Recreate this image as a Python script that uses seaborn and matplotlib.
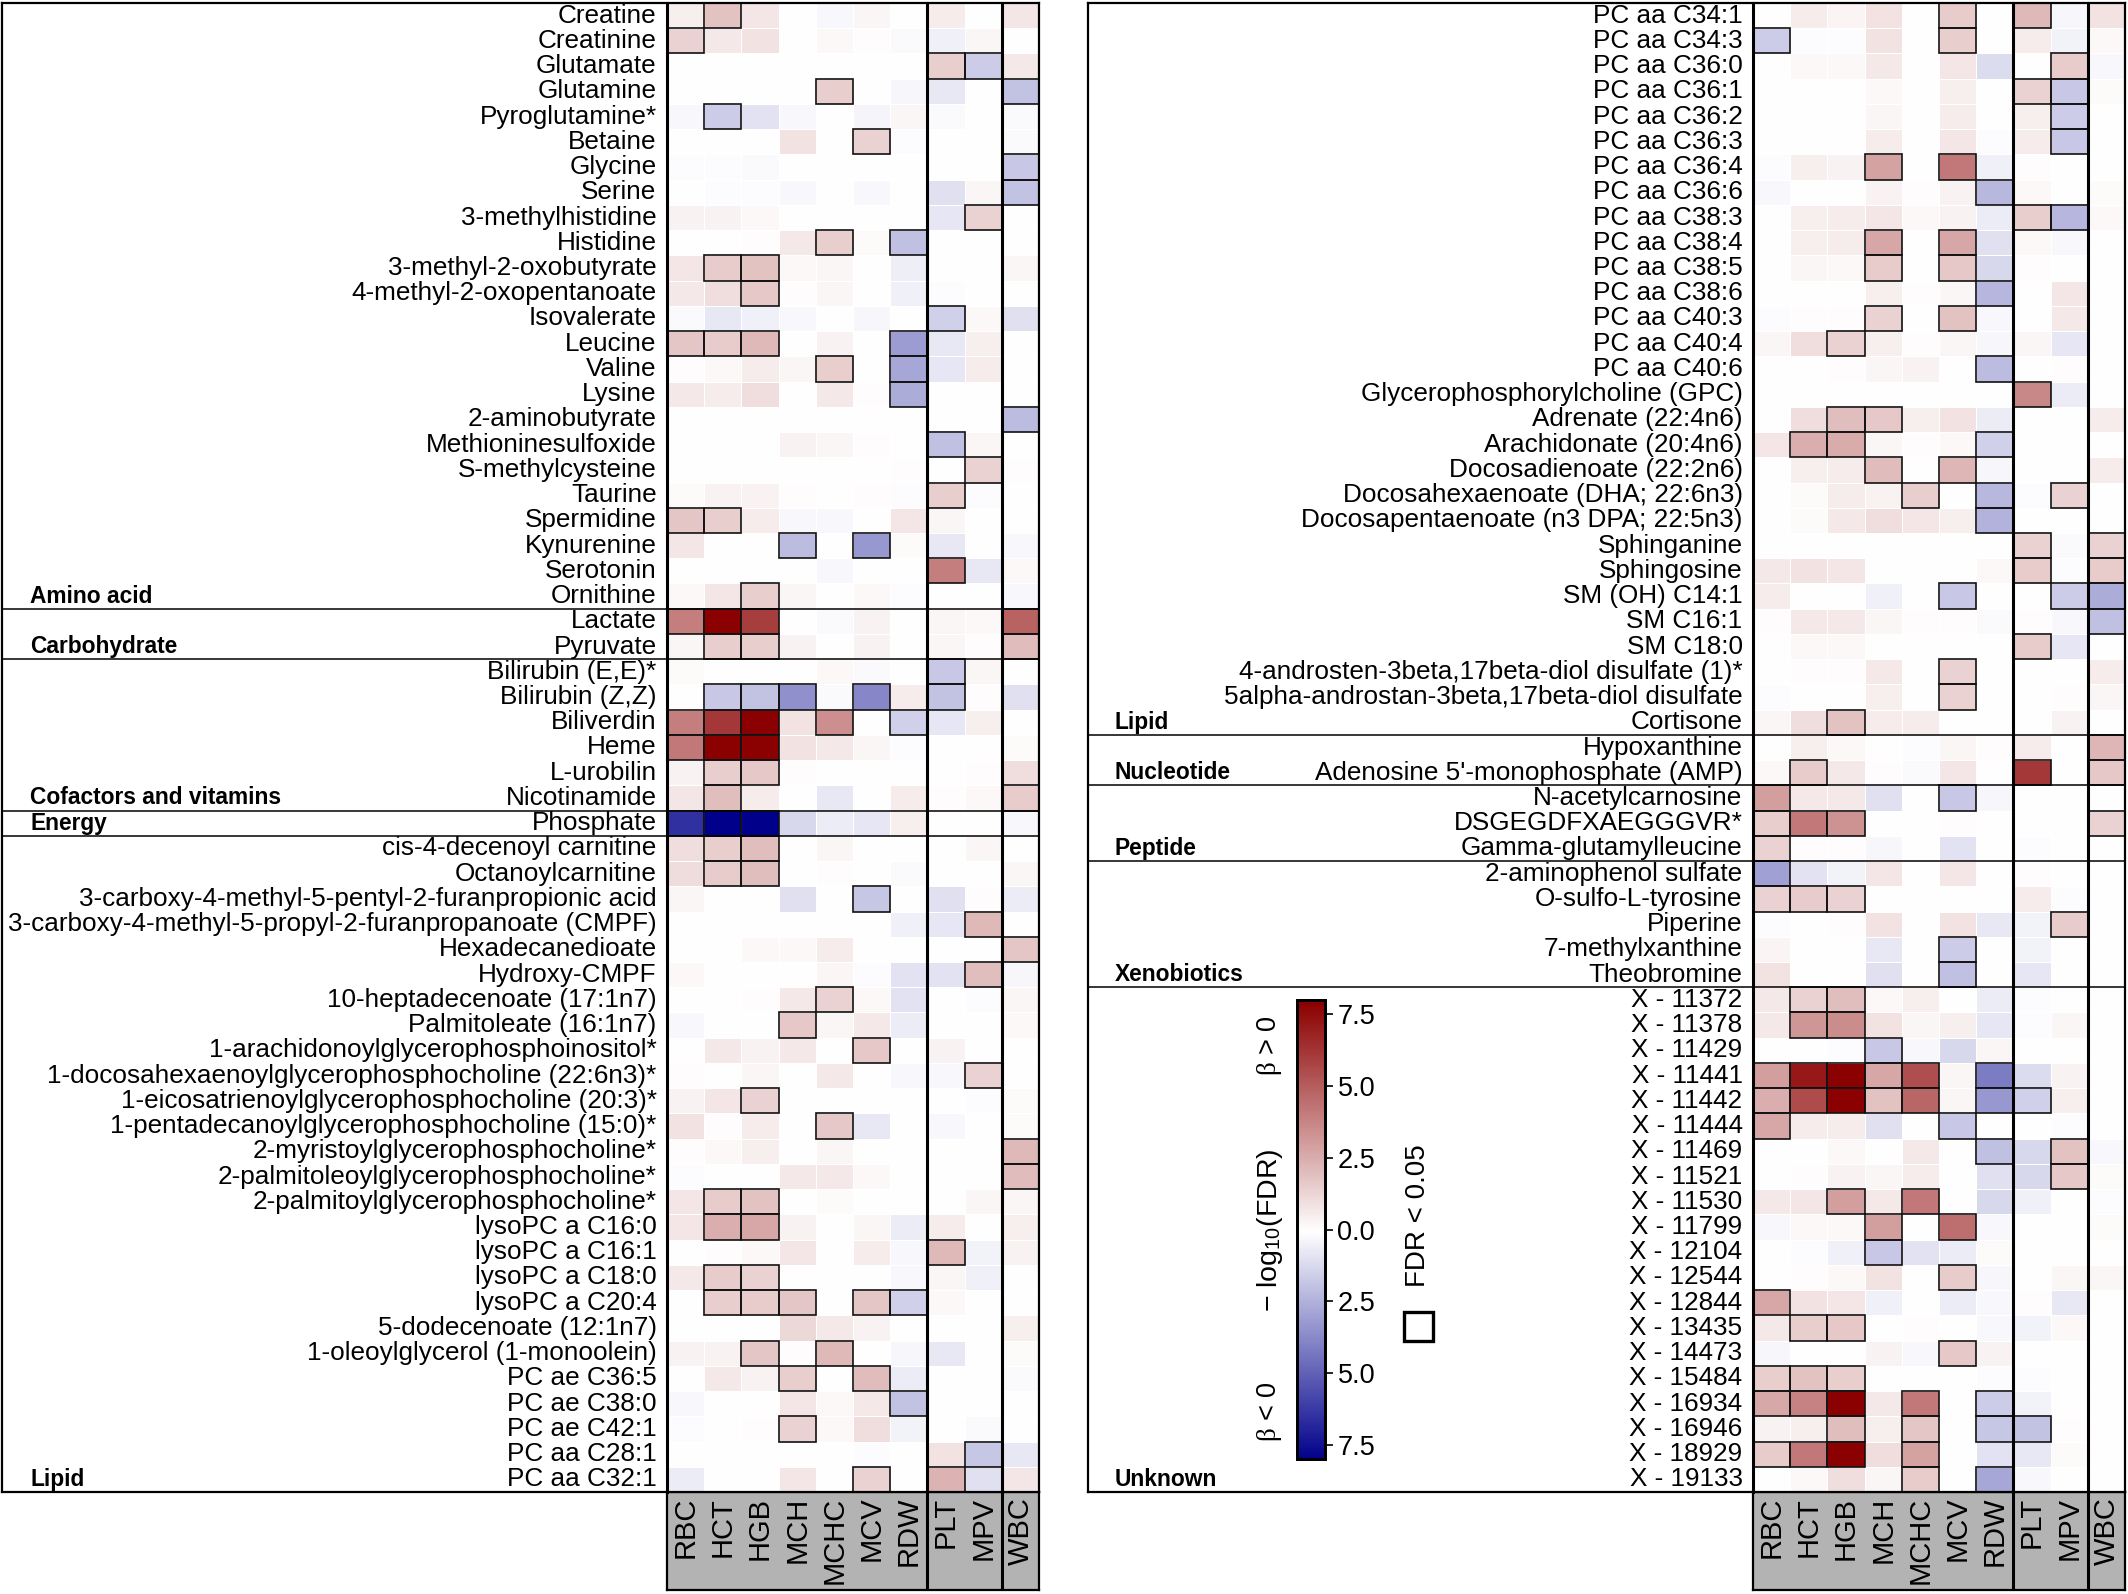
import numpy as np
import pandas as pd
import seaborn as sns
import matplotlib
matplotlib.use("Agg")
from matplotlib import pyplot as plt
from matplotlib.colors import LinearSegmentedColormap
from matplotlib.patches import Rectangle

W, H = 2128, 1594

# traits, in the order of the columns
traits = ["RBC", "HCT", "HGB", "MCH", "MCHC", "MCV", "RDW", "PLT", "MPV", "WBC"]
trait_breaks = [7, 9]
bar_ticks = [-7.5, -5.0, -2.5, 0.0, 2.5, 5.0, 7.5]
bar_labels = ["7.5", "5.0", "2.5", "0.0", "2.5", "5.0", "7.5"]

left_names = [
    "Creatine", "Creatinine", "Glutamate", "Glutamine", "Pyroglutamine*", "Betaine", "Glycine", "Serine",
    "3-methylhistidine", "Histidine", "3-methyl-2-oxobutyrate", "4-methyl-2-oxopentanoate", "Isovalerate",
    "Leucine", "Valine", "Lysine", "2-aminobutyrate", "Methioninesulfoxide", "S-methylcysteine", "Taurine",
    "Spermidine", "Kynurenine", "Serotonin", "Ornithine",
    "Lactate", "Pyruvate",
    "Bilirubin (E,E)*", "Bilirubin (Z,Z)", "Biliverdin", "Heme", "L-urobilin", "Nicotinamide",
    "Phosphate",
    "cis-4-decenoyl carnitine", "Octanoylcarnitine", "3-carboxy-4-methyl-5-pentyl-2-furanpropionic acid",
    "3-carboxy-4-methyl-5-propyl-2-furanpropanoate (CMPF)", "Hexadecanedioate", "Hydroxy-CMPF",
    "10-heptadecenoate (17:1n7)", "Palmitoleate (16:1n7)", "1-arachidonoylglycerophosphoinositol*",
    "1-docosahexaenoylglycerophosphocholine (22:6n3)*", "1-eicosatrienoylglycerophosphocholine (20:3)*",
    "1-pentadecanoylglycerophosphocholine (15:0)*", "2-myristoylglycerophosphocholine*",
    "2-palmitoleoylglycerophosphocholine*", "2-palmitoylglycerophosphocholine*", "lysoPC a C16:0",
    "lysoPC a C16:1", "lysoPC a C18:0", "lysoPC a C20:4", "5-dodecenoate (12:1n7)",
    "1-oleoylglycerol (1-monoolein)", "PC ae C36:5", "PC ae C38:0", "PC ae C42:1", "PC aa C28:1", "PC aa C32:1",
]
# signed -log10(FDR), sign is the sign of beta
left_values = [
    [.5, 1.9, .8, 0, -.2, .3, 0, .6, 0, .8],
    [1.4, .7, .9, 0, .2, .1, -.15, -.5, .3, 0],
    [0, 0, 0, 0, 0, 0, 0, 1.5, -1.6, .7],
    [0, 0, 0, 0, 1.5, 0, -.3, -.7, 0, -1.9],
    [-.2, -1.6, -.9, -.2, 0, -.35, .25, -.15, 0, -.15],
    [0, .05, .05, .9, 0, 1.4, -.1, 0, 0, -.15],
    [-.1, -.1, -.15, 0, 0, 0, 0, 0, 0, -1.7],
    [0, -.1, -.1, -.25, 0, -.2, 0, -1.0, .3, -1.9],
    [.4, .4, .2, 0, 0, 0, 0, -.8, 1.4, 0],
    [0, 0, .1, .7, 1.5, .15, -2.0, 0, 0, 0],
    [.8, 1.6, 1.9, .2, .3, 0, -.55, 0, 0, .25],
    [.7, 1.0, 1.7, .1, .3, 0, -.5, -.1, 0, 0],
    [-.15, -.7, -.5, -.2, 0, -.3, 0, -1.5, .2, -1.0],
    [1.8, 1.6, 2.2, 0, .4, 0, -3.1, -.7, .5, 0],
    [.1, .2, .6, .3, 1.5, 0, -2.8, -.8, .6, 0],
    [.7, .6, 1.0, 0, .7, .1, -2.6, 0, 0, 0],
    [0, 0, 0, 0, 0, 0, 0, -.05, 0, -2.1],
    [0, 0, 0, .4, .3, .1, 0, -2.0, .3, 0],
    [0, -.05, -.05, 0, 0, .05, .1, 0, 1.4, .1],
    [.15, .4, .4, .1, 0, .1, -.1, 1.5, -.1, 0],
    [1.8, 1.5, .6, -.2, -.2, 0, .8, .3, 0, 0],
    [.8, 0, 0, -2.1, 0, -3.2, .15, -.7, 0, -.2],
    [0, 0, -.05, 0, -.2, 0, 0, 4.0, -.7, .2],
    [.2, .8, 1.5, .3, -.05, .2, -.1, 0, 0, -.2],
    [4.0, 8, 6, 0, -.15, .4, 0, .25, .2, 4.9],
    [.25, 1.5, 1.5, .4, 0, .4, 0, .3, .1, 2.1],
    [.15, 0, 0, 0, .2, -.15, 0, -1.7, .3, 0],
    [0, -1.7, -1.9, -3.5, -.15, -3.8, .6, -1.9, .1, -1.0],
    [4.0, 6.2, 8, .9, 3.5, 0, -1.5, -.8, .5, 0],
    [4.2, 8, 8, .9, .7, .3, -.1, 0, 0, .15],
    [.4, 1.5, 1.7, .1, 0, 0, 0, 0, .1, 1.0],
    [.8, 2.0, .6, 0, -.7, 0, .6, .1, .2, 1.6],
    [-6.5, -8, -8, -1.2, -.6, -.8, .5, 0, 0, -.2],
    [1.0, 1.5, 2.0, 0, .3, 0, 0, -.05, .3, 0],
    [1.1, 1.6, 2.0, 0, .1, 0, -.15, 0, 0, .3],
    [.3, 0, 0, -1.0, 0, -1.8, 0, -1.0, .1, -.6],
    [0, 0, 0, 0, 0, 0, -.5, -.8, 2.2, 0],
    [0, 0, .2, .2, .6, 0, 0, 0, -.05, 1.8],
    [.2, 0, .05, .05, .3, -.1, -.9, -.9, 2.0, -.3],
    [0, 0, .1, .7, 1.4, .2, -.9, 0, -.1, .3],
    [-.2, 0, .05, 1.7, .3, .7, -.6, 0, 0, .2],
    [0, .7, .4, .7, 0, 1.7, 0, .4, 0, 0],
    [.1, 0, .3, 0, .7, 0, -.2, -.2, 1.4, 0],
    [.4, .8, 1.4, 0, 0, 0, 0, .05, -.1, .15],
    [.9, .1, .6, 0, 1.7, -.7, 0, -.2, 0, .15],
    [.1, .2, .5, 0, .3, 0, 0, 0, 0, 2.2],
    [-.1, 0, 0, .7, .7, .2, -.05, 0, 0, 2.1],
    [.8, 1.6, 1.9, 0, .15, 0, 0, 0, .3, .3],
    [.8, 2.5, 2.8, .4, 0, .3, -.6, .6, -.05, .5],
    [0, .1, .2, .8, 0, .6, -.2, 2.2, -.4, .4],
    [.7, 1.6, 1.4, 0, 0, 0, -.2, .3, -.5, 0],
    [0, 1.5, 1.6, 1.8, 0, 1.8, -1.5, .2, 0, 0],
    [0, 0, 0, 1.2, .7, .4, 0, .05, 0, .5],
    [.4, .4, 1.8, .1, 2.2, 0, -.3, -.7, 0, .15],
    [0, .7, .4, 1.5, 0, 2.1, -.6, 0, 0, -.15],
    [-.2, 0, 0, .8, .2, .7, -1.9, 0, 0, 0],
    [-.1, 0, .1, 1.4, .2, 1.0, -.4, 0, -.15, 0],
    [0, 0, 0, 0, 0, -.1, 0, .9, -1.8, -.7],
    [-.6, 0, .05, .8, 0, 1.4, 0, 2.4, -1.0, .8],
]

right_names = [
    "PC aa C34:1", "PC aa C34:3", "PC aa C36:0", "PC aa C36:1", "PC aa C36:2", "PC aa C36:3", "PC aa C36:4",
    "PC aa C36:6", "PC aa C38:3", "PC aa C38:4", "PC aa C38:5", "PC aa C38:6", "PC aa C40:3", "PC aa C40:4",
    "PC aa C40:6", "Glycerophosphorylcholine (GPC)", "Adrenate (22:4n6)", "Arachidonate (20:4n6)",
    "Docosadienoate (22:2n6)", "Docosahexaenoate (DHA; 22:6n3)", "Docosapentaenoate (n3 DPA; 22:5n3)",
    "Sphinganine", "Sphingosine", "SM (OH) C14:1", "SM C16:1", "SM C18:0",
    "4-androsten-3beta,17beta-diol disulfate (1)*", "5alpha-androstan-3beta,17beta-diol disulfate", "Cortisone",
    "Hypoxanthine", "Adenosine 5'-monophosphate (AMP)",
    "N-acetylcarnosine", "DSGEGDFXAEGGGVR*", "Gamma-glutamylleucine",
    "2-aminophenol sulfate", "O-sulfo-L-tyrosine", "Piperine", "7-methylxanthine", "Theobromine",
    "X - 11372", "X - 11378", "X - 11429", "X - 11441", "X - 11442", "X - 11444", "X - 11469", "X - 11521",
    "X - 11530", "X - 11799", "X - 12104", "X - 12544", "X - 12844", "X - 13435", "X - 14473", "X - 15484",
    "X - 16934", "X - 16946", "X - 18929", "X - 19133",
]
right_values = [
    [0, .6, .35, .9, 0, 1.6, 0, 2.2, -.3, .9],
    [-1.6, -.1, -.1, .9, 0, 1.5, 0, .6, -.4, .2],
    [0, .2, .2, .7, 0, .8, -1.1, 0, 1.6, -.2],
    [0, .05, 0, .2, 0, .5, 0, 1.4, -1.7, .15],
    [0, 0, 0, .3, 0, .6, 0, .5, -1.6, 0],
    [0, 0, 0, .6, 0, .8, -.1, .6, -1.7, 0],
    [-.1, .5, .4, 2.9, 0, 4.2, -.5, .1, 0, 0],
    [-.25, 0, 0, .4, .1, .4, -2.2, .2, 0, .15],
    [0, .5, .6, .8, .2, .4, -.6, 1.5, -2.3, .2],
    [0, .5, .6, 2.8, .05, 2.8, -1.0, .2, -.2, 0],
    [0, .25, .2, 1.6, 0, 1.7, -1.2, .1, 0, 0],
    [0, 0, 0, .5, .1, .3, -2.3, 0, .8, 0],
    [-.1, .1, .1, 1.4, 0, 1.9, -.2, 0, .7, 0],
    [.25, 1.0, 1.4, .5, .1, .3, -.3, .3, -.8, 0],
    [0, 0, .1, .3, .4, 0, -2.1, 0, .1, 0],
    [0, 0, 0, 0, 0, 0, 0, 3.7, -.6, 0],
    [0, 1.0, 2.0, 1.7, .5, .9, -.6, 0, 0, .6],
    [.8, 2.5, 2.6, .3, .1, .2, -1.5, 0, 0, 0],
    [0, .5, .6, 2.1, .05, 2.3, -.3, 0, 0, .6],
    [0, .15, .6, .4, 1.5, 0, -2.2, -.1, 1.4, 0],
    [0, .15, .7, 1.0, .8, .5, -2.4, 0, 0, .05],
    [0, 0, 0, 0, 0, 0, 0, 1.4, -.15, 1.4],
    [.7, .9, .8, 0, 0, 0, .2, 1.6, -.1, 1.6],
    [.6, 0, 0, -.5, .05, -1.7, 0, 0, -1.6, -2.6],
    [.1, .7, .7, .3, .1, .1, -.15, .1, -.25, -2.0],
    [0, .2, .2, 0, 0, 0, 0, 1.6, -.8, 0],
    [0, .1, .1, .7, 0, 1.4, 0, 0, 0, .6],
    [-.1, 0, 0, .5, 0, 1.4, 0, 0, .1, .3],
    [.3, 1.0, 1.9, .6, .6, .05, 0, 0, .4, 0],
    [0, .5, .2, 0, -.1, .3, .1, .6, .05, 2.3],
    [.2, 1.6, .7, .1, -.15, .8, 0, 6.2, 0, 1.7],
    [3.0, .7, .7, -1.0, 0, -1.7, -.3, 0, 0, 0],
    [1.5, 4.2, 3.4, 0, 0, .1, 0, 0, 0, 1.4],
    [1.4, .1, .1, -.3, 0, -.9, 0, -.1, 0, 0],
    [-3.0, -.9, -.4, .8, 0, .8, 0, .1, 0, 0],
    [1.4, 1.6, 1.4, 0, 0, 0, 0, .6, -.1, .05],
    [-.1, 0, .1, .9, 0, .9, -.7, -.4, 1.6, 0],
    [.35, 0, 0, -.7, 0, -1.6, 0, -.4, 0, 0],
    [.9, 0, 0, -1.0, 0, -2.0, 0, -.8, 0, 0],
    [.7, 1.4, 2.0, .2, .5, 0, -.6, -.1, 0, 0],
    [.7, 3.3, 3.6, .9, .25, .5, -.8, -.1, .3, 0],
    [0, -.05, -.1, -1.7, -.2, -1.2, .3, 0, 0, 0],
    [3.0, 7.2, 8, 2.8, 5.5, .3, -4.1, -1.1, .4, 0],
    [2.5, 5.6, 8, 1.9, 4.8, .25, -3.2, -1.5, .5, 0],
    [2.8, .6, .6, -1.0, 0, -1.7, 0, 0, -.1, 0],
    [0, 0, .2, 0, .7, 0, -2.0, -1.2, 1.9, -.2],
    [0, .1, .4, .3, .6, 0, -1.0, -1.2, 1.7, .15],
    [.7, .8, 3.0, .7, 4.2, 0, -1.2, -.5, 0, -.1],
    [-.25, .2, .2, 3.0, 0, 4.5, -.2, 0, 0, .15],
    [0, -.1, -.5, -1.7, -.9, -.6, .15, 0, 0, 0],
    [-.05, .1, .2, .9, 0, 1.6, -.3, 0, .3, .25],
    [2.8, .9, .8, -.5, 0, -.6, -.2, .1, -.7, 0],
    [.7, 1.5, 1.7, .05, .1, 0, -.2, -.4, .2, 0],
    [-.3, 0, 0, .4, -.2, 1.7, .4, 0, 0, 0],
    [1.5, 1.9, 1.5, 0, 0, 0, -.1, -.1, 0, 0],
    [2.7, 3.9, 8, .7, 4.2, 0, -1.6, -.4, 0, 0],
    [.4, .5, 2.0, .5, 1.8, 0, -1.8, -1.9, .1, 0],
    [1.6, 4.2, 8, 1.0, 2.9, .05, -.9, -.7, .15, 0],
    [.05, .2, 1.0, .3, 1.6, 0, -2.8, -.2, .05, 0],
]

# group name and the row it ends on (label sits on that row)
left_groups = [("Amino acid", 24), ("Carbohydrate", 26), ("Cofactors and vitamins", 32), ("Energy", 33), ("Lipid", 59)]
right_groups = [("Lipid", 29), ("Nucleotide", 31), ("Peptide", 34), ("Xenobiotics", 39), ("Unknown", 59)]

FDR_CUT = -np.log10(0.05)

plt.rcParams["font.family"] = ["Liberation Sans", "DejaVu Sans"]
plt.rcParams["mathtext.fontset"] = "custom"
plt.rcParams["mathtext.rm"] = "Liberation Sans"
plt.rcParams["mathtext.it"] = "Liberation Serif"
plt.rcParams["mathtext.bf"] = "Liberation Sans:bold"

cmap = LinearSegmentedColormap.from_list("beta", ["#00008B", "#FFFFFF", "#8B0000"])


def rect(fig_w, fig_h, x0, y0, x1, y1):
    return [x0 / fig_w, 1 - y1 / fig_h, (x1 - x0) / fig_w, (y1 - y0) / fig_h]


fig = plt.figure(figsize=(W / 100, H / 100), dpi=100)

TOP, BOTTOM, STRIP = 3, 1492, 1590


def draw_panel(names, values, groups, x_outer, x_heat, x_right, group_x, cbar_ax=None):
    strip = fig.add_axes(rect(W, H, x_heat, BOTTOM, x_right, STRIP))
    strip.set_facecolor("#b3b3b3")
    strip.set_xlim(0, len(traits))
    strip.set_xticks([])
    strip.set_yticks([])
    for s in strip.spines.values():
        s.set_linewidth(1.6)
    for b in trait_breaks:
        strip.axvline(b, color="black", lw=2.2)

    ax = fig.add_axes(rect(W, H, x_heat, TOP, x_right, BOTTOM))
    df = pd.DataFrame(values, index=names, columns=traits)
    kw = {"cbar": False}
    if cbar_ax is not None:
        kw = {"cbar": True, "cbar_ax": cbar_ax, "cbar_kws": {"ticks": bar_ticks}}
    sns.heatmap(df, ax=ax, cmap=cmap, vmin=-8, vmax=8, linewidths=.7, linecolor="white",
                xticklabels=True, yticklabels=True, **kw)
    ax.tick_params(axis="y", length=0, pad=7.5, labelsize=18.8, labelrotation=0)
    ax.tick_params(axis="x", length=0, pad=3.5, labelrotation=90)
    plt.setp(ax.get_xticklabels(), fontsize=21)

    # boxes round the cells that pass FDR < 0.05
    arr = np.asarray(values, dtype=float)
    for r, c in zip(*np.where(np.abs(arr) >= FDR_CUT)):
        ax.add_patch(Rectangle((c, r), 1, 1, fill=False, ec="#111111", lw=1.2, clip_on=False, zorder=3))
    for b in [0] + trait_breaks:
        ax.axvline(b, color="black", lw=2.2, zorder=4, clip_on=False)

    frame = fig.add_axes(rect(W, H, x_outer, TOP, x_right, BOTTOM))
    frame.patch.set_alpha(0)
    frame.set_xlim(x_outer, x_right)
    frame.set_ylim(len(names), 0)
    frame.set_xticks([])
    frame.set_yticks([])
    for s in frame.spines.values():
        s.set_linewidth(1.6)
    for name, end in groups:
        frame.text(group_x, end - 0.5, name, fontweight="bold", fontsize=16.4, va="center", ha="left")
        if end < len(names):
            frame.axhline(end, color="black", lw=1.1)


draw_panel(left_names, left_values, left_groups, 2, 667, 1039, 30)

cax = fig.add_axes(rect(W, H, 1297, 1000, 1325, 1459))
draw_panel(right_names, right_values, right_groups, 1088, 1753, 2125, 1115, cbar_ax=cax)
cax.set_zorder(10)
cax.set_yticks(bar_ticks)
cax.set_yticklabels(bar_labels)
cax.tick_params(axis="y", length=6, width=1.2, labelsize=19.5, pad=3, right=True, color="black")
for s in cax.spines.values():
    s.set_visible(True)
    s.set_linewidth(2)
    s.set_color("black")
cax.collections[-1].set_edgecolor("face")

# legend texts beside the colour bar
fig.text(1270 / W, 1 - 1046 / H, r"$\beta$ > 0", rotation=90, fontsize=19.5, ha="center", va="center")
fig.text(1270 / W, 1 - 1230 / H, "\u2212 log$_{\\mathregular{10}}$(FDR)", rotation=90, fontsize=20.5, ha="center", va="center")
fig.text(1270 / W, 1 - 1412 / H, r"$\beta$ < 0", rotation=90, fontsize=19.5, ha="center", va="center")
fig.text(1418 / W, 1 - 1216 / H, "FDR < 0.05", rotation=90, fontsize=20, ha="center", va="center")
fig.add_artist(Rectangle((1404 / W, 1 - 1341 / H), 29 / W, 29 / H, fill=False, ec="black", lw=2.4,
                         transform=fig.transFigure))

fig.savefig("out.png", dpi=100, facecolor="white")
